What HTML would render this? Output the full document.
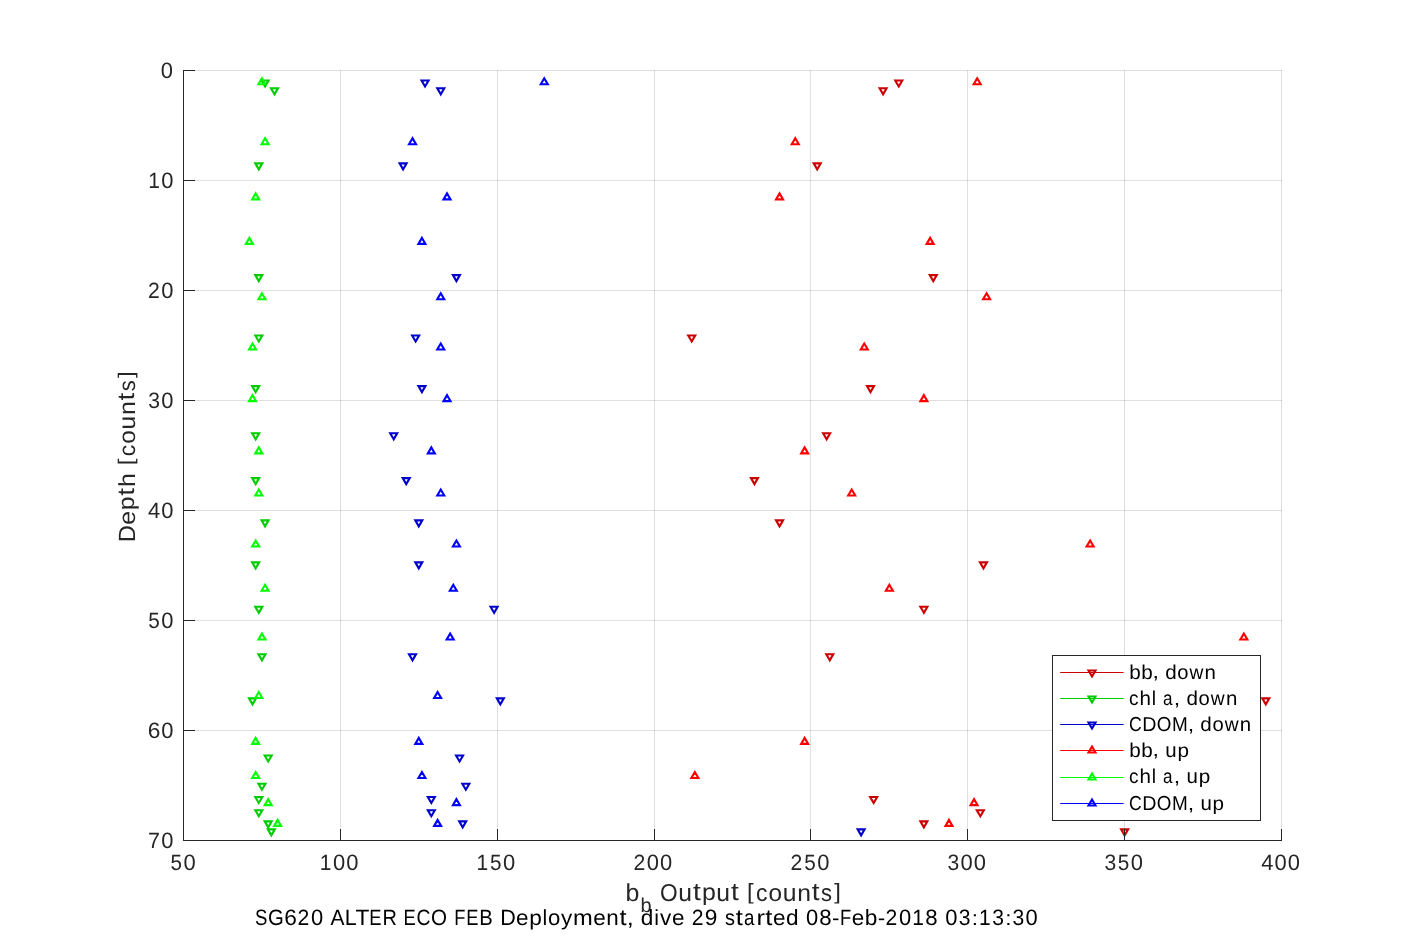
<!DOCTYPE html>
<html lang="en"><head><meta charset="utf-8"><title>SG620 dive 29 - ECO output vs depth</title>
<style>html,body{margin:0;padding:0;background:#fff;overflow:hidden}svg{display:block;will-change:transform}text{font-family:"Liberation Sans", sans-serif;font-kerning:none;text-rendering:geometricPrecision}.ax{stroke:#262626;stroke-width:1;shape-rendering:crispEdges;fill:none}.gr{stroke:#262626;stroke-opacity:.15;stroke-width:1;shape-rendering:crispEdges;fill:none}.mk{fill:none;stroke-width:2.10;stroke-linejoin:miter;stroke-miterlimit:10}.tk{fill:#262626}.lb{fill:#262626}.tt{fill:#000}.lg{fill:#000}</style></head><body>
<svg width="1417" height="945" viewBox="0 0 1417 945" role="img" aria-label="Sensor output versus depth scatter plot">
<rect width="1417" height="945" fill="#fff"/>
<path class="gr" d="M183.5 70.0V841.0M340.5 70.0V841.0M497.5 70.0V841.0M654.5 70.0V841.0M810.5 70.0V841.0M967.5 70.0V841.0M1124.5 70.0V841.0M1281.5 70.0V841.0"/>
<path class="gr" d="M183.0 70.5H1282.0M183.0 180.5H1282.0M183.0 290.5H1282.0M183.0 400.5H1282.0M183.0 510.5H1282.0M183.0 620.5H1282.0M183.0 730.5H1282.0M183.0 840.5H1282.0"/>
<path class="mk" stroke="#cc0000" d="M898.77 86.50L895.27 80.50L902.27 80.50ZM883.08 94.30L879.58 88.30L886.58 88.30ZM817.20 169.40L813.70 163.40L820.70 163.40ZM933.28 281.10L929.78 275.10L936.78 275.10ZM691.72 341.50L688.22 335.50L695.22 335.50ZM870.53 392.10L867.03 386.10L874.03 386.10ZM826.61 439.30L823.11 433.30L830.11 433.30ZM754.46 484.10L750.96 478.10L757.96 478.10ZM779.56 526.40L776.06 520.40L783.06 520.40ZM983.47 568.40L979.97 562.40L986.97 562.40ZM923.87 612.80L920.37 606.80L927.37 606.80ZM829.75 660.30L826.25 654.30L833.25 654.30ZM1265.81 704.40L1262.31 698.40L1269.31 698.40ZM873.67 803.00L870.17 797.00L877.17 797.00ZM980.33 816.20L976.83 810.20L983.83 810.20ZM923.87 827.40L920.37 821.40L927.37 821.40ZM1124.64 835.40L1121.14 829.40L1128.14 829.40Z"/>
<path class="mk" stroke="#00cc00" d="M265.07 86.50L261.57 80.50L268.57 80.50ZM274.48 94.30L270.98 88.30L277.98 88.30ZM258.79 169.40L255.29 163.40L262.29 163.40ZM258.79 281.10L255.29 275.10L262.29 275.10ZM258.79 341.50L255.29 335.50L262.29 335.50ZM255.65 392.10L252.15 386.10L259.15 386.10ZM255.65 439.30L252.15 433.30L259.15 433.30ZM255.65 484.10L252.15 478.10L259.15 478.10ZM265.07 526.40L261.57 520.40L268.57 520.40ZM255.65 568.40L252.15 562.40L259.15 562.40ZM258.79 612.80L255.29 606.80L262.29 606.80ZM261.93 660.30L258.43 654.30L265.43 654.30ZM252.52 704.40L249.02 698.40L256.02 698.40ZM268.20 761.50L264.70 755.50L271.70 755.50ZM261.93 789.70L258.43 783.70L265.43 783.70ZM258.79 803.00L255.29 797.00L262.29 797.00ZM258.79 816.20L255.29 810.20L262.29 810.20ZM268.20 827.40L264.70 821.40L271.70 821.40ZM271.34 835.40L267.84 829.40L274.84 829.40Z"/>
<path class="mk" stroke="#0000cc" d="M425.06 86.50L421.56 80.50L428.56 80.50ZM440.75 94.30L437.25 88.30L444.25 88.30ZM403.10 169.40L399.60 163.40L406.60 163.40ZM456.43 281.10L452.93 275.10L459.93 275.10ZM415.65 341.50L412.15 335.50L419.15 335.50ZM421.92 392.10L418.42 386.10L425.42 386.10ZM393.69 439.30L390.19 433.30L397.19 433.30ZM406.24 484.10L402.74 478.10L409.74 478.10ZM418.79 526.40L415.29 520.40L422.29 520.40ZM418.79 568.40L415.29 562.40L422.29 562.40ZM494.08 612.80L490.58 606.80L497.58 606.80ZM412.51 660.30L409.01 654.30L416.01 654.30ZM500.35 704.40L496.85 698.40L503.85 698.40ZM459.57 761.50L456.07 755.50L463.07 755.50ZM465.84 789.70L462.34 783.70L469.34 783.70ZM431.33 803.00L427.83 797.00L434.83 797.00ZM431.33 816.20L427.83 810.20L434.83 810.20ZM462.71 827.40L459.21 821.40L466.21 821.40ZM861.12 835.40L857.62 829.40L864.62 829.40Z"/>
<path class="mk" stroke="#ff0000" d="M977.20 78.30L973.70 84.30L980.70 84.30ZM795.24 138.20L791.74 144.20L798.74 144.20ZM779.56 193.40L776.06 199.40L783.06 199.40ZM930.14 237.90L926.64 243.90L933.64 243.90ZM986.61 293.30L983.11 299.30L990.11 299.30ZM864.26 343.50L860.76 349.50L867.76 349.50ZM923.87 395.10L920.37 401.10L927.37 401.10ZM804.65 447.40L801.15 453.40L808.15 453.40ZM851.71 489.50L848.21 495.50L855.21 495.50ZM1090.13 540.50L1086.63 546.50L1093.63 546.50ZM889.36 584.80L885.86 590.80L892.86 590.80ZM1243.85 633.50L1240.35 639.50L1247.35 639.50ZM804.65 737.90L801.15 743.90L808.15 743.90ZM694.85 772.00L691.35 778.00L698.35 778.00ZM974.06 799.10L970.56 805.10L977.56 805.10ZM948.96 819.90L945.46 825.90L952.46 825.90Z"/>
<path class="mk" stroke="#00ff00" d="M261.93 78.30L258.43 84.30L265.43 84.30ZM265.07 138.20L261.57 144.20L268.57 144.20ZM255.65 193.40L252.15 199.40L259.15 199.40ZM249.38 237.90L245.88 243.90L252.88 243.90ZM261.93 293.30L258.43 299.30L265.43 299.30ZM252.52 343.50L249.02 349.50L256.02 349.50ZM252.52 395.10L249.02 401.10L256.02 401.10ZM258.79 447.40L255.29 453.40L262.29 453.40ZM258.79 489.50L255.29 495.50L262.29 495.50ZM255.65 540.50L252.15 546.50L259.15 546.50ZM265.07 584.80L261.57 590.80L268.57 590.80ZM261.93 633.50L258.43 639.50L265.43 639.50ZM258.79 692.00L255.29 698.00L262.29 698.00ZM255.65 737.90L252.15 743.90L259.15 743.90ZM255.65 772.00L252.15 778.00L259.15 778.00ZM268.20 799.10L264.70 805.10L271.70 805.10ZM277.61 819.90L274.11 825.90L281.11 825.90Z"/>
<path class="mk" stroke="#0000ff" d="M544.27 78.30L540.77 84.30L547.77 84.30ZM412.51 138.20L409.01 144.20L416.01 144.20ZM447.02 193.40L443.52 199.40L450.52 199.40ZM421.92 237.90L418.42 243.90L425.42 243.90ZM440.75 293.30L437.25 299.30L444.25 299.30ZM440.75 343.50L437.25 349.50L444.25 349.50ZM447.02 395.10L443.52 401.10L450.52 401.10ZM431.33 447.40L427.83 453.40L434.83 453.40ZM440.75 489.50L437.25 495.50L444.25 495.50ZM456.43 540.50L452.93 546.50L459.93 546.50ZM453.29 584.80L449.79 590.80L456.79 590.80ZM450.16 633.50L446.66 639.50L453.66 639.50ZM437.61 692.00L434.11 698.00L441.11 698.00ZM418.79 737.90L415.29 743.90L422.29 743.90ZM421.92 772.00L418.42 778.00L425.42 778.00ZM456.43 799.10L452.93 805.10L459.93 805.10ZM437.61 819.90L434.11 825.90L441.11 825.90Z"/>
<path class="ax" d="M183.5 70.0V841.0M183.0 840.5H1282.0M183.5 841.0V829.0M340.5 841.0V829.0M497.5 841.0V829.0M654.5 841.0V829.0M810.5 841.0V829.0M967.5 841.0V829.0M1124.5 841.0V829.0M1281.5 841.0V829.0M183.0 70.5H195.0M183.0 180.5H195.0M183.0 290.5H195.0M183.0 400.5H195.0M183.0 510.5H195.0M183.0 620.5H195.0M183.0 730.5H195.0M183.0 840.5H195.0"/>
<rect x="1052.5" y="655.5" width="208.0" height="165.0" fill="#fff" stroke="#262626" stroke-width="1" shape-rendering="crispEdges"/>
<path d="M1060.2 672.45H1123.6" stroke="#cc0000" stroke-width="1.1" fill="none"/>
<path class="mk" stroke="#cc0000" d="M1092.00 676.50L1088.50 670.50L1095.50 670.50Z"/>
<path d="M1060.2 698.45H1123.6" stroke="#00cc00" stroke-width="1.1" fill="none"/>
<path class="mk" stroke="#00cc00" d="M1092.00 702.50L1088.50 696.50L1095.50 696.50Z"/>
<path d="M1060.2 724.45H1123.6" stroke="#0000cc" stroke-width="1.1" fill="none"/>
<path class="mk" stroke="#0000cc" d="M1092.00 728.50L1088.50 722.50L1095.50 722.50Z"/>
<path d="M1060.2 750.45H1123.6" stroke="#ff0000" stroke-width="1.1" fill="none"/>
<path class="mk" stroke="#ff0000" d="M1092.00 746.50L1088.50 752.50L1095.50 752.50Z"/>
<path d="M1060.2 777.45H1123.6" stroke="#00ff00" stroke-width="1.1" fill="none"/>
<path class="mk" stroke="#00ff00" d="M1092.00 773.50L1088.50 779.50L1095.50 779.50Z"/>
<path d="M1060.2 803.45H1123.6" stroke="#0000ff" stroke-width="1.1" fill="none"/>
<path class="mk" stroke="#0000ff" d="M1092.00 799.50L1088.50 805.50L1095.50 805.50Z"/>
<g id="lg0" class="lg" font-size="19.00" aria-label="bb, down"><text transform="translate(1129.19 678.77) scale(1.088 1.054)">b</text><text transform="translate(1141.24 678.77) scale(1.088 1.054)">b</text><text transform="translate(1152.51 678.42) scale(1.220 1.023)">,</text> <text transform="translate(1165.17 678.77) scale(1.087 1.054)">d</text><text transform="translate(1177.25 678.77) scale(1.063 1.048)">o</text><text transform="translate(1189.50 678.70) scale(1.011 1.035)">w</text><text transform="translate(1204.59 678.70) scale(1.078 1.041)">n</text></g>
<g id="lg1" class="lg" font-size="19.00" aria-label="chl a, down"><text transform="translate(1129.04 705.37) scale(1.003 1.048)">c</text><text transform="translate(1139.53 705.30) scale(1.086 1.049)">h</text><text transform="translate(1151.77 705.30) scale(1.022 1.049)">l</text> <text transform="translate(1163.01 705.37) scale(0.899 1.048)">a</text><text transform="translate(1173.84 705.02) scale(1.220 1.023)">,</text> <text transform="translate(1186.50 705.37) scale(1.087 1.054)">d</text><text transform="translate(1198.58 705.37) scale(1.063 1.048)">o</text><text transform="translate(1210.83 705.30) scale(1.011 1.035)">w</text><text transform="translate(1225.92 705.30) scale(1.078 1.041)">n</text></g>
<g id="lg2" class="lg" font-size="19.00" aria-label="CDOM, down"><text transform="translate(1128.97 731.47) scale(0.928 1.068)">C</text><text transform="translate(1142.32 731.40) scale(1.035 1.060)">D</text><text transform="translate(1156.87 731.47) scale(0.989 1.068)">O</text><text transform="translate(1171.95 731.40) scale(0.997 1.060)">M</text><text transform="translate(1187.64 731.12) scale(1.220 1.023)">,</text> <text transform="translate(1200.29 731.47) scale(1.087 1.054)">d</text><text transform="translate(1212.38 731.47) scale(1.063 1.048)">o</text><text transform="translate(1224.63 731.40) scale(1.011 1.035)">w</text><text transform="translate(1239.71 731.40) scale(1.078 1.041)">n</text></g>
<g id="lg3" class="lg" font-size="19.00" aria-label="bb, up"><text transform="translate(1129.19 756.82) scale(1.088 1.054)">b</text><text transform="translate(1141.24 756.82) scale(1.088 1.054)">b</text><text transform="translate(1152.51 756.47) scale(1.220 1.023)">,</text> <text transform="translate(1165.27 756.82) scale(1.078 1.067)">u</text><text transform="translate(1177.43 756.64) scale(1.088 1.031)">p</text></g>
<g id="lg4" class="lg" font-size="19.00" aria-label="chl a, up"><text transform="translate(1129.04 782.97) scale(1.003 1.048)">c</text><text transform="translate(1139.53 782.90) scale(1.086 1.049)">h</text><text transform="translate(1151.77 782.90) scale(1.022 1.049)">l</text> <text transform="translate(1163.01 782.97) scale(0.899 1.048)">a</text><text transform="translate(1173.84 782.62) scale(1.220 1.023)">,</text> <text transform="translate(1186.60 782.97) scale(1.078 1.067)">u</text><text transform="translate(1198.76 782.79) scale(1.088 1.031)">p</text></g>
<g id="lg5" class="lg" font-size="19.00" aria-label="CDOM, up"><text transform="translate(1128.97 809.87) scale(0.928 1.068)">C</text><text transform="translate(1142.32 809.80) scale(1.035 1.060)">D</text><text transform="translate(1156.87 809.87) scale(0.989 1.068)">O</text><text transform="translate(1171.95 809.80) scale(0.997 1.060)">M</text><text transform="translate(1187.64 809.52) scale(1.220 1.023)">,</text> <text transform="translate(1200.40 809.87) scale(1.078 1.067)">u</text><text transform="translate(1212.55 809.69) scale(1.088 1.031)">p</text></g>
<g id="yt0" class="tk" font-size="20.83" aria-label="0"><text transform="translate(160.65 78.48) scale(1.054 1.068)">0</text></g>
<g id="yt10" class="tk" font-size="20.83" aria-label="10"><text transform="translate(148.18 188.40) scale(1.007 1.060)">1</text><text transform="translate(161.25 188.48) scale(1.054 1.068)">0</text></g>
<g id="yt20" class="tk" font-size="20.83" aria-label="20"><text transform="translate(147.95 298.40) scale(1.016 1.063)">2</text><text transform="translate(161.25 298.48) scale(1.054 1.068)">0</text></g>
<g id="yt30" class="tk" font-size="20.83" aria-label="30"><text transform="translate(148.27 408.48) scale(1.012 1.068)">3</text><text transform="translate(161.25 408.48) scale(1.054 1.068)">0</text></g>
<g id="yt40" class="tk" font-size="20.83" aria-label="40"><text transform="translate(148.00 518.40) scale(1.054 1.060)">4</text><text transform="translate(161.25 518.48) scale(1.054 1.068)">0</text></g>
<g id="yt50" class="tk" font-size="20.83" aria-label="50"><text transform="translate(148.26 628.48) scale(0.995 1.065)">5</text><text transform="translate(161.25 628.48) scale(1.054 1.068)">0</text></g>
<g id="yt60" class="tk" font-size="20.83" aria-label="60"><text transform="translate(147.78 738.48) scale(1.091 1.068)">6</text><text transform="translate(161.25 738.48) scale(1.054 1.068)">0</text></g>
<g id="yt70" class="tk" font-size="20.83" aria-label="70"><text transform="translate(148.09 848.40) scale(1.031 1.060)">7</text><text transform="translate(161.25 848.48) scale(1.054 1.068)">0</text></g>
<g id="xt50" class="tk" font-size="20.83" aria-label="50"><text transform="translate(170.42 870.48) scale(0.995 1.065)">5</text><text transform="translate(183.41 870.48) scale(1.054 1.068)">0</text></g>
<g id="xt100" class="tk" font-size="20.83" aria-label="100"><text transform="translate(319.81 870.40) scale(1.007 1.060)">1</text><text transform="translate(332.88 870.48) scale(1.054 1.068)">0</text><text transform="translate(346.13 870.48) scale(1.054 1.068)">0</text></g>
<g id="xt150" class="tk" font-size="20.83" aria-label="150"><text transform="translate(476.61 870.40) scale(1.007 1.060)">1</text><text transform="translate(489.94 870.48) scale(0.995 1.065)">5</text><text transform="translate(502.93 870.48) scale(1.054 1.068)">0</text></g>
<g id="xt200" class="tk" font-size="20.83" aria-label="200"><text transform="translate(633.48 870.40) scale(1.016 1.063)">2</text><text transform="translate(646.78 870.48) scale(1.054 1.068)">0</text><text transform="translate(660.03 870.48) scale(1.054 1.068)">0</text></g>
<g id="xt250" class="tk" font-size="20.83" aria-label="250"><text transform="translate(790.58 870.40) scale(1.016 1.063)">2</text><text transform="translate(804.14 870.48) scale(0.995 1.065)">5</text><text transform="translate(817.13 870.48) scale(1.054 1.068)">0</text></g>
<g id="xt300" class="tk" font-size="20.83" aria-label="300"><text transform="translate(947.40 870.48) scale(1.012 1.068)">3</text><text transform="translate(960.38 870.48) scale(1.054 1.068)">0</text><text transform="translate(973.63 870.48) scale(1.054 1.068)">0</text></g>
<g id="xt350" class="tk" font-size="20.83" aria-label="350"><text transform="translate(1104.40 870.48) scale(1.012 1.068)">3</text><text transform="translate(1117.64 870.48) scale(0.995 1.065)">5</text><text transform="translate(1130.63 870.48) scale(1.054 1.068)">0</text></g>
<g id="xt400" class="tk" font-size="20.83" aria-label="400"><text transform="translate(1261.28 870.40) scale(1.054 1.060)">4</text><text transform="translate(1274.53 870.48) scale(1.054 1.068)">0</text><text transform="translate(1287.78 870.48) scale(1.054 1.068)">0</text></g>
<g id="xl1" class="lb" font-size="22.92" aria-label="b"><text transform="translate(625.52 900.69) scale(1.088 1.073)">b</text></g>
<g id="xl2" class="lb" font-size="18.30" aria-label="b"><text transform="translate(640.38 912.07) scale(1.088 1.091)">b</text></g>
<g id="xl3" class="lb" font-size="22.92" aria-label="Output [counts]"><text transform="translate(660.11 900.69) scale(0.989 1.068)">O</text><text transform="translate(678.26 900.69) scale(1.078 1.067)">u</text><text transform="translate(692.98 900.41) scale(1.220 1.073)">t</text><text transform="translate(701.89 900.46) scale(1.088 1.031)">p</text><text transform="translate(716.30 900.69) scale(1.078 1.067)">u</text><text transform="translate(731.01 900.41) scale(1.220 1.073)">t</text> <text transform="translate(747.01 899.07) scale(1.042 0.957)">[</text><text transform="translate(755.97 900.69) scale(1.003 1.048)">c</text><text transform="translate(768.52 900.69) scale(1.063 1.048)">o</text><text transform="translate(782.63 900.69) scale(1.078 1.067)">u</text><text transform="translate(797.25 900.60) scale(1.078 1.041)">n</text><text transform="translate(811.86 900.41) scale(1.220 1.073)">t</text><text transform="translate(820.94 900.69) scale(0.959 1.051)">s</text><text transform="translate(834.28 899.07) scale(1.042 0.957)">]</text></g>
<g id="yl" class="lb" font-size="22.92" transform="translate(134.6 456.8) rotate(-90)" aria-label="Depth [counts]"><text transform="translate(-85.44 0.00) scale(1.035 1.023)">D</text><text transform="translate(-67.90 0.09) scale(1.080 1.011)">e</text><text transform="translate(-53.55 -0.13) scale(1.088 0.995)">p</text><text transform="translate(-38.94 -0.19) scale(1.220 1.036)">t</text><text transform="translate(-30.14 -0.00) scale(1.086 1.012)">h</text> <text transform="translate(-8.43 -1.47) scale(1.042 0.923)">[</text><text transform="translate(0.53 0.09) scale(1.003 1.011)">c</text><text transform="translate(13.08 0.09) scale(1.063 1.011)">o</text><text transform="translate(27.19 0.08) scale(1.078 1.030)">u</text><text transform="translate(41.81 0.00) scale(1.078 1.004)">n</text><text transform="translate(56.42 -0.19) scale(1.220 1.036)">t</text><text transform="translate(65.50 0.09) scale(0.959 1.014)">s</text><text transform="translate(78.85 -1.47) scale(1.042 0.923)">]</text></g>
<g id="tt" class="tt" font-size="20.83" aria-label="SG620 ALTER ECO FEB Deployment, dive 29 started 08-Feb-2018 03:13:30"><text transform="translate(255.08 925.28) scale(0.891 1.068)">S</text><text transform="translate(267.92 925.28) scale(0.975 1.068)">G</text><text transform="translate(284.21 925.28) scale(1.091 1.068)">6</text><text transform="translate(297.62 925.20) scale(1.016 1.063)">2</text><text transform="translate(310.92 925.28) scale(1.054 1.068)">0</text> <text transform="translate(330.41 925.20) scale(1.007 1.060)">A</text><text transform="translate(344.81 925.20) scale(1.029 1.060)">L</text><text transform="translate(355.56 925.20) scale(1.091 1.060)">T</text><text transform="translate(369.31 925.20) scale(0.880 1.060)">E</text><text transform="translate(382.43 925.20) scale(0.956 1.060)">R</text> <text transform="translate(403.58 925.20) scale(0.880 1.060)">E</text><text transform="translate(416.46 925.28) scale(0.928 1.068)">C</text><text transform="translate(431.01 925.28) scale(0.989 1.068)">O</text> <text transform="translate(454.24 925.20) scale(0.880 1.060)">F</text><text transform="translate(466.27 925.20) scale(0.880 1.060)">E</text><text transform="translate(479.34 925.20) scale(0.972 1.060)">B</text> <text transform="translate(500.15 925.20) scale(1.035 1.060)">D</text><text transform="translate(516.10 925.28) scale(1.080 1.048)">e</text><text transform="translate(529.15 925.08) scale(1.088 1.031)">p</text><text transform="translate(542.47 925.20) scale(1.022 1.049)">l</text><text transform="translate(547.96 925.28) scale(1.063 1.048)">o</text><text transform="translate(561.04 925.10) scale(1.074 1.026)">y</text><text transform="translate(573.12 925.20) scale(1.139 1.041)">m</text><text transform="translate(593.29 925.28) scale(1.080 1.048)">e</text><text transform="translate(606.31 925.20) scale(1.078 1.041)">n</text><text transform="translate(619.60 925.03) scale(1.220 1.073)">t</text><text transform="translate(626.84 924.89) scale(1.220 1.023)">,</text> <text transform="translate(640.72 925.28) scale(1.087 1.054)">d</text><text transform="translate(654.28 925.20) scale(1.022 1.049)">i</text><text transform="translate(660.06 925.20) scale(1.079 1.035)">v</text><text transform="translate(672.04 925.28) scale(1.080 1.048)">e</text> <text transform="translate(691.75 925.20) scale(1.016 1.063)">2</text><text transform="translate(704.78 925.28) scale(1.089 1.068)">9</text> <text transform="translate(724.98 925.28) scale(0.959 1.051)">s</text><text transform="translate(735.74 925.03) scale(1.220 1.073)">t</text><text transform="translate(743.88 925.28) scale(0.899 1.048)">a</text><text transform="translate(756.55 925.20) scale(1.220 1.041)">r</text><text transform="translate(765.24 925.03) scale(1.220 1.073)">t</text><text transform="translate(773.10 925.28) scale(1.080 1.048)">e</text><text transform="translate(785.94 925.28) scale(1.087 1.054)">d</text> <text transform="translate(806.08 925.28) scale(1.054 1.068)">0</text><text transform="translate(819.28 925.28) scale(1.066 1.068)">8</text><text transform="translate(832.10 925.17) scale(1.078 1.025)">-</text><text transform="translate(840.02 925.20) scale(0.880 1.060)">F</text><text transform="translate(851.76 925.28) scale(1.080 1.048)">e</text><text transform="translate(864.81 925.28) scale(1.088 1.054)">b</text><text transform="translate(877.63 925.17) scale(1.078 1.025)">-</text><text transform="translate(885.59 925.20) scale(1.016 1.063)">2</text><text transform="translate(898.89 925.28) scale(1.054 1.068)">0</text><text transform="translate(912.32 925.20) scale(1.007 1.060)">1</text><text transform="translate(925.33 925.28) scale(1.066 1.068)">8</text> <text transform="translate(945.27 925.28) scale(1.054 1.068)">0</text><text transform="translate(958.79 925.28) scale(1.012 1.068)">3</text><text transform="translate(971.64 925.20) scale(1.082 0.979)">:</text><text transform="translate(978.96 925.20) scale(1.007 1.060)">1</text><text transform="translate(992.30 925.28) scale(1.012 1.068)">3</text><text transform="translate(1005.15 925.20) scale(1.082 0.979)">:</text><text transform="translate(1012.57 925.28) scale(1.012 1.068)">3</text><text transform="translate(1025.55 925.28) scale(1.054 1.068)">0</text></g>
</svg></body></html>
